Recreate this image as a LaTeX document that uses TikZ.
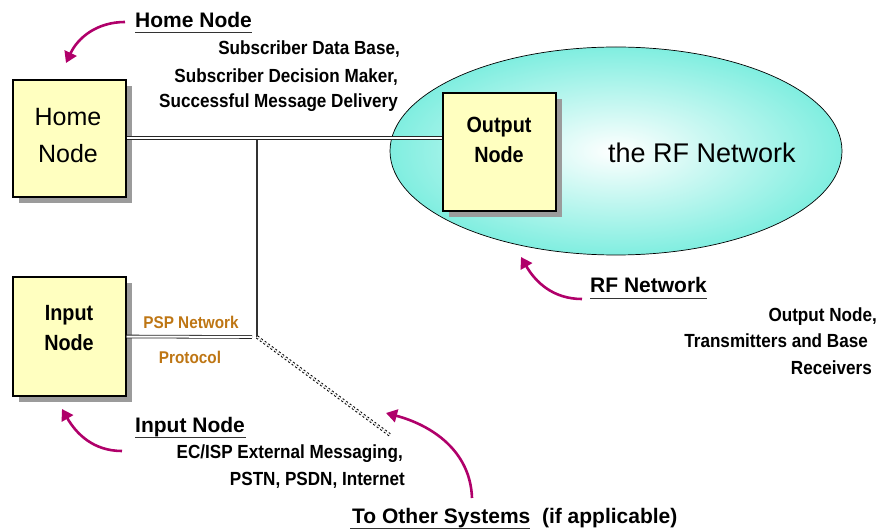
\documentclass[tikz,border=0pt]{standalone}
\usepackage{fontspec}
\setmainfont{Liberation Sans}
\newfontfamily\narrowb[FakeStretch=0.9]{Liberation Sans}
\usetikzlibrary{arrows.meta,shadows,shapes.geometric}
\definecolor{boxyellow}{RGB}{255,255,192}
\definecolor{rfcyan}{RGB}{128,238,224}
\definecolor{pointer}{RGB}{176,0,106}
\definecolor{pspbrown}{RGB}{190,118,20}
\definecolor{shadowgray}{RGB}{155,155,155}
\tikzset{
  nodebox/.style={draw=black, line width=1.1pt, fill=boxyellow, inner sep=0pt,
    drop shadow={shadow xshift=6pt, shadow yshift=-6pt, fill=shadowgray, opacity=1}},
  boxtext/.style={align=center, inner sep=0pt},
  label/.style={inner sep=0pt, font=\bfseries\fontsize{21}{25}\selectfont},
  desc/.style={inner sep=0pt, font=\narrowb\bfseries\fontsize{19}{23}\selectfont},
  psp/.style={inner sep=0pt, text=pspbrown, font=\narrowb\bfseries\fontsize{17}{20}\selectfont},
  link/.style={double=white, double distance=2pt, line width=0.8pt, draw=black!85},
  feeder/.style={line width=1.1pt, draw=black!80},
  othersys/.style={double=white, double distance=1.4pt, line width=1pt, draw=black,
    dash pattern=on 2pt off 2.4pt},
  pointerarrow/.style={draw=pointer, line width=2.6pt,
    -{Triangle[length=11pt,width=13pt]}},
  ulineunder/.style={line width=1pt, draw=black!80}
}
\begin{document}
\begin{tikzpicture}[x=1pt, y=-1pt]
\useasboundingbox (0,0) rectangle (878,529);

% RF network ellipse
\node (rf) [ellipse, draw=black, line width=0.7pt, inner sep=0pt,
  minimum width=452pt, minimum height=208pt,
  inner color=white, outer color=rfcyan] at (616,151) {};
\node (rftext) [anchor=base west, inner sep=0pt, font=\fontsize{27}{32}\selectfont] at (608,163) {the RF Network};

% boxes
\node (home) [nodebox, minimum width=113pt, minimum height=117pt] at (69.5,138.5) {};
\node (input) [nodebox, minimum width=113pt, minimum height=119pt] at (69.5,336.5) {};
\node (output) [nodebox, minimum width=113pt, minimum height=118pt] at (499.5,152) {};

\node (hometxt) [boxtext, anchor=base, font=\fontsize{25}{37}\selectfont] at (68,126) {Home};
\node (hometxt2) [boxtext, anchor=base, font=\fontsize{25}{37}\selectfont] at (68,163) {Node};
\node (inputtxt) [boxtext, anchor=base, font=\narrowb\bfseries\fontsize{22}{30}\selectfont] at (69,320) {Input};
\node (inputtxt2) [boxtext, anchor=base, font=\narrowb\bfseries\fontsize{22}{30}\selectfont] at (69,350) {Node};
\node (outputtxt) [boxtext, anchor=base, font=\narrowb\bfseries\fontsize{22}{30}\selectfont] at (499,133) {Output};
\node (outputtxt2) [boxtext, anchor=base, font=\narrowb\bfseries\fontsize{22}{30}\selectfont] at (499,163) {Node};

% connectors
\coordinate (j) at (257,337);
\coordinate (far) at (390,435);
\draw[link] (home.east |- 0,138) -- (output.west |- 0,138);
\draw[feeder] (j |- 0,140) -- (j);
\draw[link] (input.east) -- ([xshift=-5pt]j);
\draw[othersys] (j) -- (far);

% PSP labels
\node (psp1) [psp, anchor=base] at (191,328) {PSP Network};
\node (psp2) [psp, anchor=base] at (190,363) {Protocol};

% Home node label
\node (homelbl) [label, anchor=base west] at (135,28) {Home Node};
\draw[ulineunder] (homelbl.south west |- 0,33) -- (252,33);
\node (hd1) [desc, anchor=base east] at (400,55) {Subscriber Data Base,};
\node (hd2) [desc, anchor=base east] at (398,83) {Subscriber Decision Maker,};
\node (hd3) [desc, anchor=base east] at (398,108) {Successful Message Delivery};

% RF network label
\node (rflbl) [label, anchor=base west] at (590,293) {RF Network};
\draw[ulineunder] (rflbl.south west |- 0,299) -- (707,299);
\node (rd1) [desc, anchor=base east] at (877,322) {Output Node,};
\node (rd2) [desc, anchor=base east] at (868,347) {Transmitters and Base};
\node (rd3) [desc, anchor=base east] at (872,374) {Receivers};

% Input node label
\node (inlbl) [label, anchor=base west] at (135,432) {Input Node};
\draw[ulineunder] (inlbl.south west |- 0,437) -- (246,437);
\node (id1) [desc, anchor=base east] at (403,458) {EC/ISP External Messaging,};
\node (id2) [desc, anchor=base east] at (405,485) {PSTN, PSDN, Internet};

% Other systems label
\node (oslbl) [label, anchor=base west] at (352,523) {To Other Systems\ \ (if applicable)};
\draw[ulineunder] (350,528.5) -- (530,528.5);

% pointer arrows
\coordinate (hA) at (125,22);   \coordinate (hB) at (66,63);
\coordinate (iA) at (122,451);  \coordinate (iB) at (62,409);
\coordinate (rA) at (582,299);  \coordinate (rB) at (521,257);
\coordinate (oA) at (472,498);  \coordinate (oB) at (386,413);
\draw[pointerarrow] (hA) to[out=180, in=65] (hB);
\draw[pointerarrow] (iA) to[out=180, in=-60] (iB);
\draw[pointerarrow] (rA) to[out=180, in=-60] (rB);
\draw[pointerarrow] (oA) to[out=92, in=-15] (oB);
\end{tikzpicture}
\end{document}
